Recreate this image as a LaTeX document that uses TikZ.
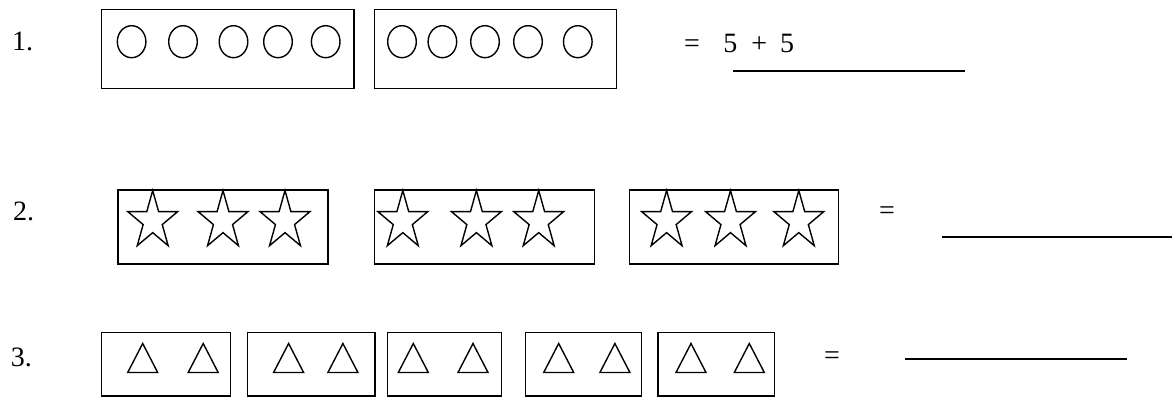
\documentclass[tikz,border=0pt]{standalone}
\usepackage{fontspec}
\setmainfont{Liberation Serif}
\begin{document}
\begin{tikzpicture}[x=1pt,y=-1pt,
  frame/.style={draw, line width=1.3pt},
  shape line/.style={line width=1.4pt, line join=miter},
  ansline/.style={line width=2pt},
  lbl/.style={anchor=base west, inner sep=0pt, font=\fontsize{28}{34}\selectfont},
  starpic/.pic={\draw[shape line] (0,-30.5) -- (-5.9,-9.42) -- (-25,-9.42) -- (-9.55,3.6) -- (-15.46,24.67) -- (0,11.65) -- (15.46,24.67) -- (9.55,3.6) -- (25,-9.42) -- (5.9,-9.42) -- cycle;},
  tripic/.pic={\draw[shape line] (-15,0) -- (15,0) -- (0,-29) -- cycle;},
]
\useasboundingbox (0,0) rectangle (1172,398);

% labels
\node[lbl] (n1) at (12,51) {1.};
\node[lbl] (n2) at (13,220) {2.};
\node[lbl] (n3) at (10.6,366) {3.};

% row 1
\draw[frame] (101.4,9.3) rectangle (354,88.3);
\draw[frame] (374.3,9.3) rectangle (616.6,88.3);
\foreach \cx in {131.6,183,233.5,278,325.7,402,442.4,485,528,577.8}
  \draw[shape line] (\cx,41.7) ellipse [x radius=14.3, y radius=16];
\node[lbl] (eq1) at (684,53) {=\hspace{23.4pt}5\hspace{14pt}+\hspace{13pt}5};
\draw[ansline] (733,70.7) -- (965,70.7);

% row 2
\draw[frame] (117.9,190) rectangle (328,264);
\draw[frame] (374.3,190) rectangle (594.3,264);
\draw[frame] (629.8,190) rectangle (838.6,264);
\foreach \cx in {152.7,223,285,402.8,476.4,538.7,666.6,730.5,798.8}
  \pic at (\cx,221) {starpic};
\node[lbl] (eq2) at (879,219.5) {=};
\draw[ansline] (941.6,237.3) -- (1172,237.3);

% row 3
\draw[frame] (101.4,332.3) rectangle (230.4,396);
\draw[frame] (247.6,332.3) rectangle (375,396);
\draw[frame] (387.7,332.3) rectangle (501.3,396);
\draw[frame] (525.5,332.3) rectangle (641.5,396);
\draw[frame] (658.1,332.3) rectangle (774.4,396);
\foreach \cx in {142.7,203.2,288.6,342.9,413.3,473,558.7,614.9,691,749.3}
  \pic at (\cx,372.5) {tripic};
\node[lbl] (eq3) at (824,364) {=};
\draw[ansline] (905.4,359.3) -- (1126.6,359.3);
\end{tikzpicture}
\end{document}
